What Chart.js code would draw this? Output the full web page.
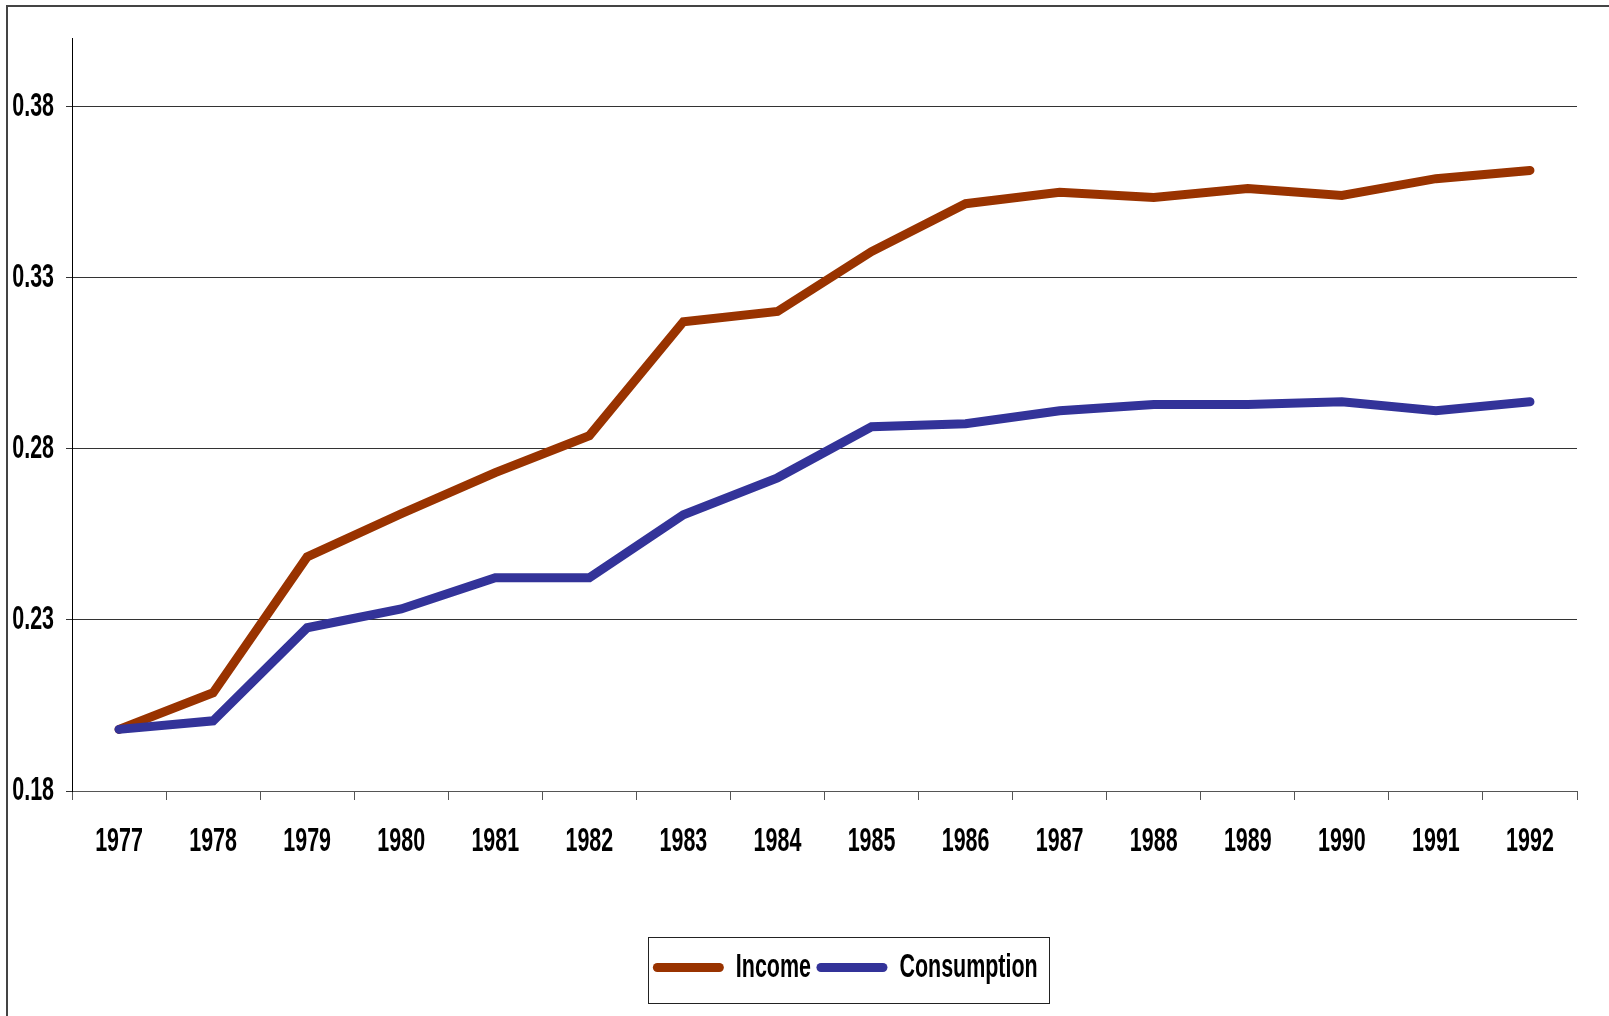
<!DOCTYPE html>
<html>
<head>
<meta charset="utf-8">
<title>Income and Consumption, 1977-1992</title>
<script src="https://cdn.jsdelivr.net/npm/chart.js@4/dist/chart.umd.min.js"></script>
<style>
  html, body { margin: 0; padding: 0; background: #fff; }
  #wrap { position: relative; width: 1609px; height: 1016px; }
  #frame {
    position: absolute; left: 6px; top: 5px; right: -10px; bottom: -10px;
    border-top: 2px solid #444; border-left: 2px solid #444;
    pointer-events: none;
  }
</style>
</head>
<body>
<div id="wrap">
  <canvas id="trendChart"></canvas>
  <div id="frame"></div>
</div>
<script>
// values
const years = ["1977", "1978", "1979", "1980", "1981", "1982", "1983", "1984",
               "1985", "1986", "1987", "1988", "1989", "1990", "1991", "1992"];
const income = [0.198, 0.2087, 0.2484, 0.261, 0.273, 0.2838, 0.3171, 0.3201,
                0.3376, 0.3516, 0.3549, 0.3534, 0.356, 0.354, 0.3589, 0.3613];
const consumption = [0.198, 0.2005, 0.2277, 0.2332, 0.2423, 0.2423, 0.2607, 0.2715,
                     0.2864, 0.2873, 0.2911, 0.2929, 0.2929, 0.2937, 0.2911, 0.2937];
const yTicks = [0.18, 0.23, 0.28, 0.33, 0.38];

const labelFont = { family: "'Liberation Sans', Arial, sans-serif", weight: "bold", size: 33 };
const squeeze = 0.65;   // the original uses a tall, very narrow type

// no narrow font installed, so squeeze the text horizontally on the canvas
const condenseText = {
    id: "condenseText",
    beforeInit(chart) {
        const c = chart.ctx;
        const fill = c.fillText.bind(c);
        const measure = c.measureText.bind(c);
        c.fillText = function (text, x, y) {
            c.save();
            c.translate(x, y);
            c.scale(squeeze, 1);
            fill(text, 0, 0);
            c.restore();
        };
        c.measureText = function (text) {
            const m = measure(text);
            return {
                width: m.width * squeeze,
                actualBoundingBoxAscent: m.actualBoundingBoxAscent,
                actualBoundingBoxDescent: m.actualBoundingBoxDescent
            };
        };
    }
};

// move the legend to where the original has it, and draw a box round it
const legendBox = {
    id: "legendBox",
    afterUpdate(chart) {
        const lg = chart.legend;
        const hits = lg.legendHitBoxes;
        if (!hits.length) return;
        const last = hits[hits.length - 1];
        const mid = (hits[0].left + last.left + last.width) / 2;
        const dx = Math.round(847 - mid);
        lg.left += dx;
        lg.right += dx;
        hits.forEach(h => { h.left += dx; });
    },
    afterDraw(chart) {
        const hits = chart.legend.legendHitBoxes;
        if (!hits.length) return;
        const first = hits[0], last = hits[hits.length - 1];
        const cy = first.top + first.height / 2;
        const x0 = first.left - 9, x1 = last.left + last.width + 12;
        const ctx = chart.ctx;
        ctx.save();
        ctx.strokeStyle = "#222";
        ctx.lineWidth = 1;
        ctx.strokeRect(Math.round(x0) + 0.5, Math.round(cy - 31) + 0.5, Math.round(x1 - x0), 66);
        ctx.restore();
    }
};

document.addEventListener("DOMContentLoaded", function () {
    const ctx = document.getElementById("trendChart");
    new Chart(ctx, {
        type: "line",
        data: {
            labels: years,
            datasets: [{
                label: "Income",
                data: income,
                borderColor: "#993300",
                backgroundColor: "#993300",
                borderWidth: 9,
                borderCapStyle: "round",
                pointRadius: 0,
                pointStyle: "line",
                tension: 0,
                order: 1
            }, {
                label: "Consumption",
                data: consumption,
                borderColor: "#333399",
                backgroundColor: "#333399",
                borderWidth: 9,
                borderCapStyle: "round",
                pointRadius: 0,
                pointStyle: "line",
                tension: 0,
                order: 0
            }]
        },
        options: {
            responsive: true,
            maintainAspectRatio: false,
            animation: false,
            layout: { padding: { top: 38, left: 0, right: 32, bottom: 22 } },
            plugins: {
                tooltip: { enabled: false },
                legend: {
                    position: "bottom",
                    labels: {
                        usePointStyle: true,
                        pointStyle: "line",
                        pointStyleWidth: 62,
                        boxHeight: 9,
                        padding: 10,
                        color: "#000",
                        font: labelFont,
                        sort: (a, b) => a.datasetIndex - b.datasetIndex,
                        generateLabels: (chart) =>
                            Chart.defaults.plugins.legend.labels.generateLabels(chart)
                                .map(item => Object.assign(item, { lineCap: "round", lineWidth: 9 }))
                    }
                }
            },
            scales: {
                x: {
                    offset: true,
                    grid: {
                        offset: true,
                        drawOnChartArea: false,
                        drawTicks: true,
                        tickLength: 9,
                        tickColor: "#555"
                    },
                    border: { color: "#555", width: 1 },
                    ticks: { color: "#000", font: labelFont, padding: 22, maxRotation: 0, autoSkip: false },
                    afterFit: (scale) => { scale.height = 150; }
                },
                y: {
                    min: 0.18,
                    max: 0.40,
                    afterBuildTicks: (axis) => { axis.ticks = yTicks.map(v => ({ value: v })); },
                    grid: { color: "#333", tickColor: "#333", tickLength: 6 },
                    border: { color: "#000", width: 1 },
                    ticks: {
                        color: "#000",
                        font: labelFont,
                        padding: 12,
                        callback: (v) => Number(v).toFixed(2)
                    },
                    afterFit: (scale) => { scale.width = 72; }
                }
            }
        },
        plugins: [condenseText, legendBox]
    });
});
</script>
</body>
</html>
